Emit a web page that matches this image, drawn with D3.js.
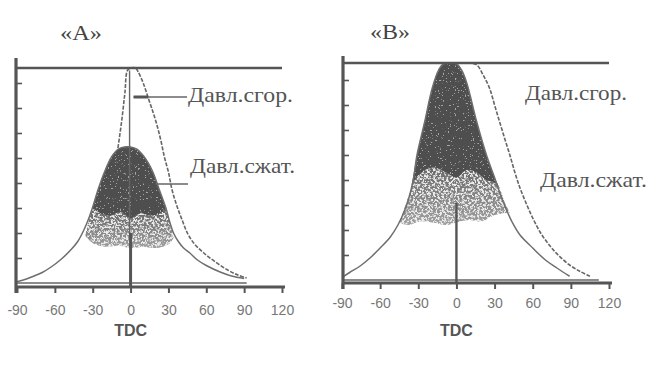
<!DOCTYPE html>
<html><head><meta charset="utf-8">
<script src="https://cdn.jsdelivr.net/npm/d3@7"></script>
<style>html,body{margin:0;padding:0;background:#fff;}svg{display:block;}</style>
</head><body>
<svg id="chart" width="658" height="369"></svg>
<script>
// ---------- data ----------
const xTicks = [-90, -60, -30, 0, 30, 60, 90, 120];
const xTickLabels = ["-90", "-60", "-30", "0", "30", "60", "90", "120"];
const yTicks = [1, 2, 3, 4, 5, 6, 7, 8];
const panelTitles = ["«A»", "«B»"];
const seriesNames = ["Давл.сгор.", "Давл.сжат."];
const axisTitle = "TDC";

// Panel A  [crank angle, pressure (tick units)]
const combA = [[-10,5.4],[-7,6.5],[-4.5,7.6],[-2.5,8.5],[0,8.6],[4,8.6],[6,8.45],[10,8.0],[14,7.4],[18,6.8],[21,6.3],[24,5.7],[27,5.0],[30,4.44],[33,3.7],[37,3.04],[41,2.5],[45,2.0],[50,1.6],[58,1.2],[67,0.85],[77,0.52],[85,0.32],[92,0.2]];
const compA = [[-90,0.05],[-85,0.12],[-78,0.25],[-70,0.42],[-63,0.64],[-55,0.95],[-47.5,1.32],[-42,1.65],[-37,2.12],[-33,2.6],[-30,3.04],[-26,3.7],[-21,4.4],[-15,5.05],[-10,5.35],[-5,5.44],[0,5.44],[5,5.35],[10,5.1],[14,4.8],[18,4.4],[23,3.7],[28,3.0],[31,2.45],[34,2.0],[38,1.65],[42,1.4],[47,1.2],[53,0.92],[60,0.7],[71,0.44],[80,0.28],[90,0.18]];
const cloudTopA = [[-36,1.9],[-33,2.5],[-30,3.04],[-26,3.7],[-21,4.4],[-15,5.05],[-10,5.35],[-5,5.44],[0,5.44],[5,5.35],[10,5.1],[14,4.8],[18,4.4],[23,3.7],[28,3.0],[31,2.45],[34,1.8]];
const cloudLowA = [[-36,1.9],[-30,1.6],[-20,1.45],[-10,1.5],[0,1.4],[10,1.45],[20,1.4],[30,1.55],[34,1.8]];
const solidLowA = [[-30,3.0],[-24,2.8],[-16,2.7],[-8,2.85],[0,2.6],[8,2.8],[16,2.7],[24,2.8],[28,3.0]];

// Panel B
const combB = [[0,8.68],[10,8.68],[16,8.6],[21,8.2],[26,7.68],[30,7.0],[34,6.32],[38,5.65],[42,5.0],[46,4.3],[50,3.68],[55,3.05],[60,2.48],[66,1.9],[73,1.4],[80,1.0],[89,0.6],[97,0.35],[105,0.15]];
const compB = [[-90,0.1],[-84,0.3],[-76,0.55],[-68,0.88],[-60,1.28],[-52,1.72],[-46,2.2],[-41,2.75],[-37,3.35],[-34,4.0],[-31,5.0],[-25,6.32],[-19,7.68],[-14,8.4],[-10,8.65],[0,8.65],[4,8.4],[8,7.9],[16,6.32],[23.6,5.0],[30,4.1],[34,3.5],[39,2.85],[44,2.3],[50,1.8],[60,1.28],[70,0.8],[79,0.48],[89,0.15]];
const cloudTopB = [[-45,2.3],[-40,3.0],[-35,3.8],[-31,5.0],[-25,6.32],[-19,7.68],[-14,8.4],[-10,8.65],[0,8.65],[4,8.4],[8,7.9],[16,6.32],[23.6,5.0],[30,4.1],[34,3.68],[38,3.1],[42,2.7]];
const cloudLowB = [[-45,2.3],[-38,2.2],[-28,2.35],[-18,2.3],[-8,2.2],[0,2.3],[10,2.4],[20,2.35],[30,2.6],[42,2.7]];
const solidLowB = [[-35,3.8],[-28,4.3],[-18,4.5],[-8,4.3],[0,4.1],[8,4.4],[16,4.3],[23.6,4.0],[30,3.9],[34,3.68]];

// ---------- layout ----------
const panels = [
  { title: panelTitles[0], comb: combA, comp: compA, cTop: cloudTopA, cLow: cloudLowA, sLow: solidLowA,
    x0: 17, x1: 282, base: 283, unit: 25, axisY: 287, topV: 8.6, axisX: 16, axTop: 58, baseEnd: 92,
    titlePos: [60, 40, 42], lab1: [188, 102, 105], lab2: [190, 173, 105],
    leaders: true, tdcTop: 8.5, tdcThickTop: 2.0, tickBase: 28 },
  { title: panelTitles[1], comb: combB, comp: compB, cTop: cloudTopB, cLow: cloudLowB, sLow: solidLowB,
    x0: 342, x1: 609, base: 280, unit: 25, axisY: 283, topV: 8.68, axisX: 343, axTop: 56, baseEnd: 112,
    titlePos: [370, 39, 40], lab1: [525, 100, 102], lab2: [540, 187, 107],
    leaders: false, tdcTop: null, tdcThickTop: 3.1, tickBase: 25 }
];

const svg = d3.select("#chart");
const defs = svg.append("defs");
function noiseFilter(id, freq, seed, matrix) {
  const f = defs.append("filter").attr("id", id).attr("x", "-10%").attr("y", "-10%").attr("width", "120%").attr("height", "120%");
  f.append("feTurbulence").attr("type", "fractalNoise").attr("baseFrequency", freq).attr("numOctaves", 2).attr("seed", seed).attr("result", "noise");
  f.append("feColorMatrix").attr("in", "noise").attr("type", "matrix").attr("values", matrix).attr("result", "mask");
  f.append("feComposite").attr("in", "SourceGraphic").attr("in2", "mask").attr("operator", "in");
}
noiseFilter("speckle", "0.45", 7, "0 0 0 0 0  0 0 0 0 0  0 0 0 0 0  10 0 0 0 -4.4");
noiseFilter("speckleLight", "0.55", 13, "0 0 0 0 0  0 0 0 0 0  0 0 0 0 0  10 0 0 0 -5.2");
noiseFilter("holes", "0.6", 21, "0 0 0 0 0  0 0 0 0 0  0 0 0 0 0  -22 0 0 0 7.4");

const grad = defs.append("linearGradient").attr("id", "cloudGrad").attr("x1", 0).attr("y1", 0).attr("x2", 0).attr("y2", 1);
grad.append("stop").attr("offset", "0%").attr("stop-color", "#4c4c4c");
grad.append("stop").attr("offset", "55%").attr("stop-color", "#5a5a5a");
grad.append("stop").attr("offset", "100%").attr("stop-color", "#a0a0a0");

const axisCol = "#555", lineCol = "#6e6e6e";

panels.forEach((p, pi) => {
  const x = d3.scaleLinear().domain([-90, 120]).range([p.x0, p.x1]);
  const y = d3.scaleLinear().domain([0, 1]).range([p.base, p.base - p.unit]);
  const g = svg.append("g");
  const line = d3.line().x(d => x(d[0])).y(d => y(d[1])).curve(d3.curveCatmullRom.alpha(0.5));
  const poly = (top, low) => line(top) + line(low.slice().reverse()).replace(/^M/, "L") + "Z";

  // cloud: haze, speckles, solid core
  const cloudD = poly(p.cTop, p.cLow);
  g.append("path").attr("d", cloudD).attr("fill", "#e2e2e2").attr("opacity", 0.7);
  g.append("path").attr("d", cloudD).attr("fill", "#b4b4b4").attr("filter", "url(#speckleLight)");
  g.append("path").attr("d", cloudD).attr("fill", "url(#cloudGrad)").attr("filter", "url(#speckle)");
  const sMin = p.sLow[0][0], sMax = p.sLow[p.sLow.length - 1][0];
  const solidTop = p.cTop.filter(d => d[0] >= sMin && d[0] <= sMax);
  const solidD = poly(solidTop, p.sLow);
  g.append("path").attr("d", solidD).attr("fill", "#4e4e4e");
  g.append("path").attr("d", solidD).attr("fill", "#bbb").attr("opacity", 0.8).attr("filter", "url(#holes)");

  // envelope (compression) and combustion curves
  g.append("path").attr("d", line(p.comp)).attr("fill", "none").attr("stroke", lineCol).attr("stroke-width", 1.5);
  g.append("path").attr("d", line(p.comb)).attr("fill", "none").attr("stroke", "#666").attr("stroke-width", 1.6)
    .attr("stroke-dasharray", "4 1.5");

  // frame lines
  g.append("line").attr("x1", p.axisX).attr("x2", x(120)).attr("y1", y(p.topV)).attr("y2", y(p.topV))
    .attr("stroke", axisCol).attr("stroke-width", 2.6);
  g.append("line").attr("x1", p.axisX).attr("x2", x(p.baseEnd)).attr("y1", y(0)).attr("y2", y(0))
    .attr("stroke", "#666").attr("stroke-width", 1.6);
  g.append("line").attr("x1", p.axisX).attr("x2", p.axisX).attr("y1", p.axTop).attr("y2", p.axisY + 6)
    .attr("stroke", axisCol).attr("stroke-width", 3.2);

  // TDC vertical
  if (p.tdcTop !== null) {
    g.append("line").attr("x1", x(0) - 1).attr("x2", x(0) - 1).attr("y1", y(p.tdcTop)).attr("y2", y(p.tdcThickTop))
      .attr("stroke", "#666").attr("stroke-width", 1.4);
  }
  g.append("line").attr("x1", x(0)).attr("x2", x(0)).attr("y1", p.axisY).attr("y2", y(p.tdcThickTop))
    .attr("stroke", "#555").attr("stroke-width", pi === 0 ? 3 : 2.4);

  // y ticks (no labels)
  const ya = g.append("g").attr("transform", `translate(${p.axisX},0)`)
    .call(d3.axisRight(y).tickValues(yTicks).tickSize(6).tickFormat(""));
  ya.select(".domain").remove();
  ya.selectAll(".tick line").attr("stroke", axisCol).attr("stroke-width", 1.6);

  // x axis
  const xa = g.append("g").attr("transform", `translate(0,${p.axisY})`)
    .call(d3.axisBottom(x).tickValues(xTicks).tickSize(6).tickSizeOuter(0).tickPadding(0)
      .tickFormat((d, i) => xTickLabels[i]));
  xa.select(".domain").attr("stroke", axisCol).attr("stroke-width", 3)
    .attr("d", `M${p.axisX - 1},0H${x(120) + 3}`);
  xa.selectAll(".tick line").attr("stroke", axisCol).attr("stroke-width", 2);
  xa.selectAll(".tick text").attr("y", p.tickBase).attr("dy", null)
    .attr("font-family", "Liberation Sans, Arial, sans-serif").attr("font-size", 14).attr("fill", "#777");

  g.append("text").attr("x", x(0)).attr("y", 336).attr("text-anchor", "middle")
    .attr("font-family", "Liberation Sans, Arial, sans-serif").attr("font-weight", "bold")
    .attr("font-size", 16).attr("fill", "#555").text(axisTitle);

  // title
  g.append("text").attr("x", p.titlePos[0]).attr("y", p.titlePos[1])
    .attr("textLength", p.titlePos[2]).attr("lengthAdjust", "spacingAndGlyphs")
    .attr("font-family", "Liberation Serif, Times New Roman, serif").attr("font-size", 22).attr("fill", "#444")
    .text(p.title);

  // series labels
  [p.lab1, p.lab2].forEach((l, i) => {
    g.append("text").attr("x", l[0]).attr("y", l[1])
      .attr("textLength", l[2]).attr("lengthAdjust", "spacingAndGlyphs")
      .attr("font-family", "Liberation Serif, Times New Roman, serif").attr("font-size", 21).attr("fill", "#555")
      .text(seriesNames[i]);
  });

  if (p.leaders) {
    const ly1 = y(7.44), ly2 = y(3.96);
    g.append("line").attr("x1", x(2.4)).attr("x2", p.lab1[0] - 1).attr("y1", ly1).attr("y2", ly1)
      .attr("stroke", "#666").attr("stroke-width", 1.3);
    g.append("line").attr("x1", x(2.4)).attr("x2", x(14)).attr("y1", ly1).attr("y2", ly1)
      .attr("stroke", "#555").attr("stroke-width", 3);
    g.append("line").attr("x1", x(19.8)).attr("x2", p.lab2[0] - 2).attr("y1", ly2).attr("y2", ly2)
      .attr("stroke", "#666").attr("stroke-width", 1.3);
  }
});
</script>
</body></html>
